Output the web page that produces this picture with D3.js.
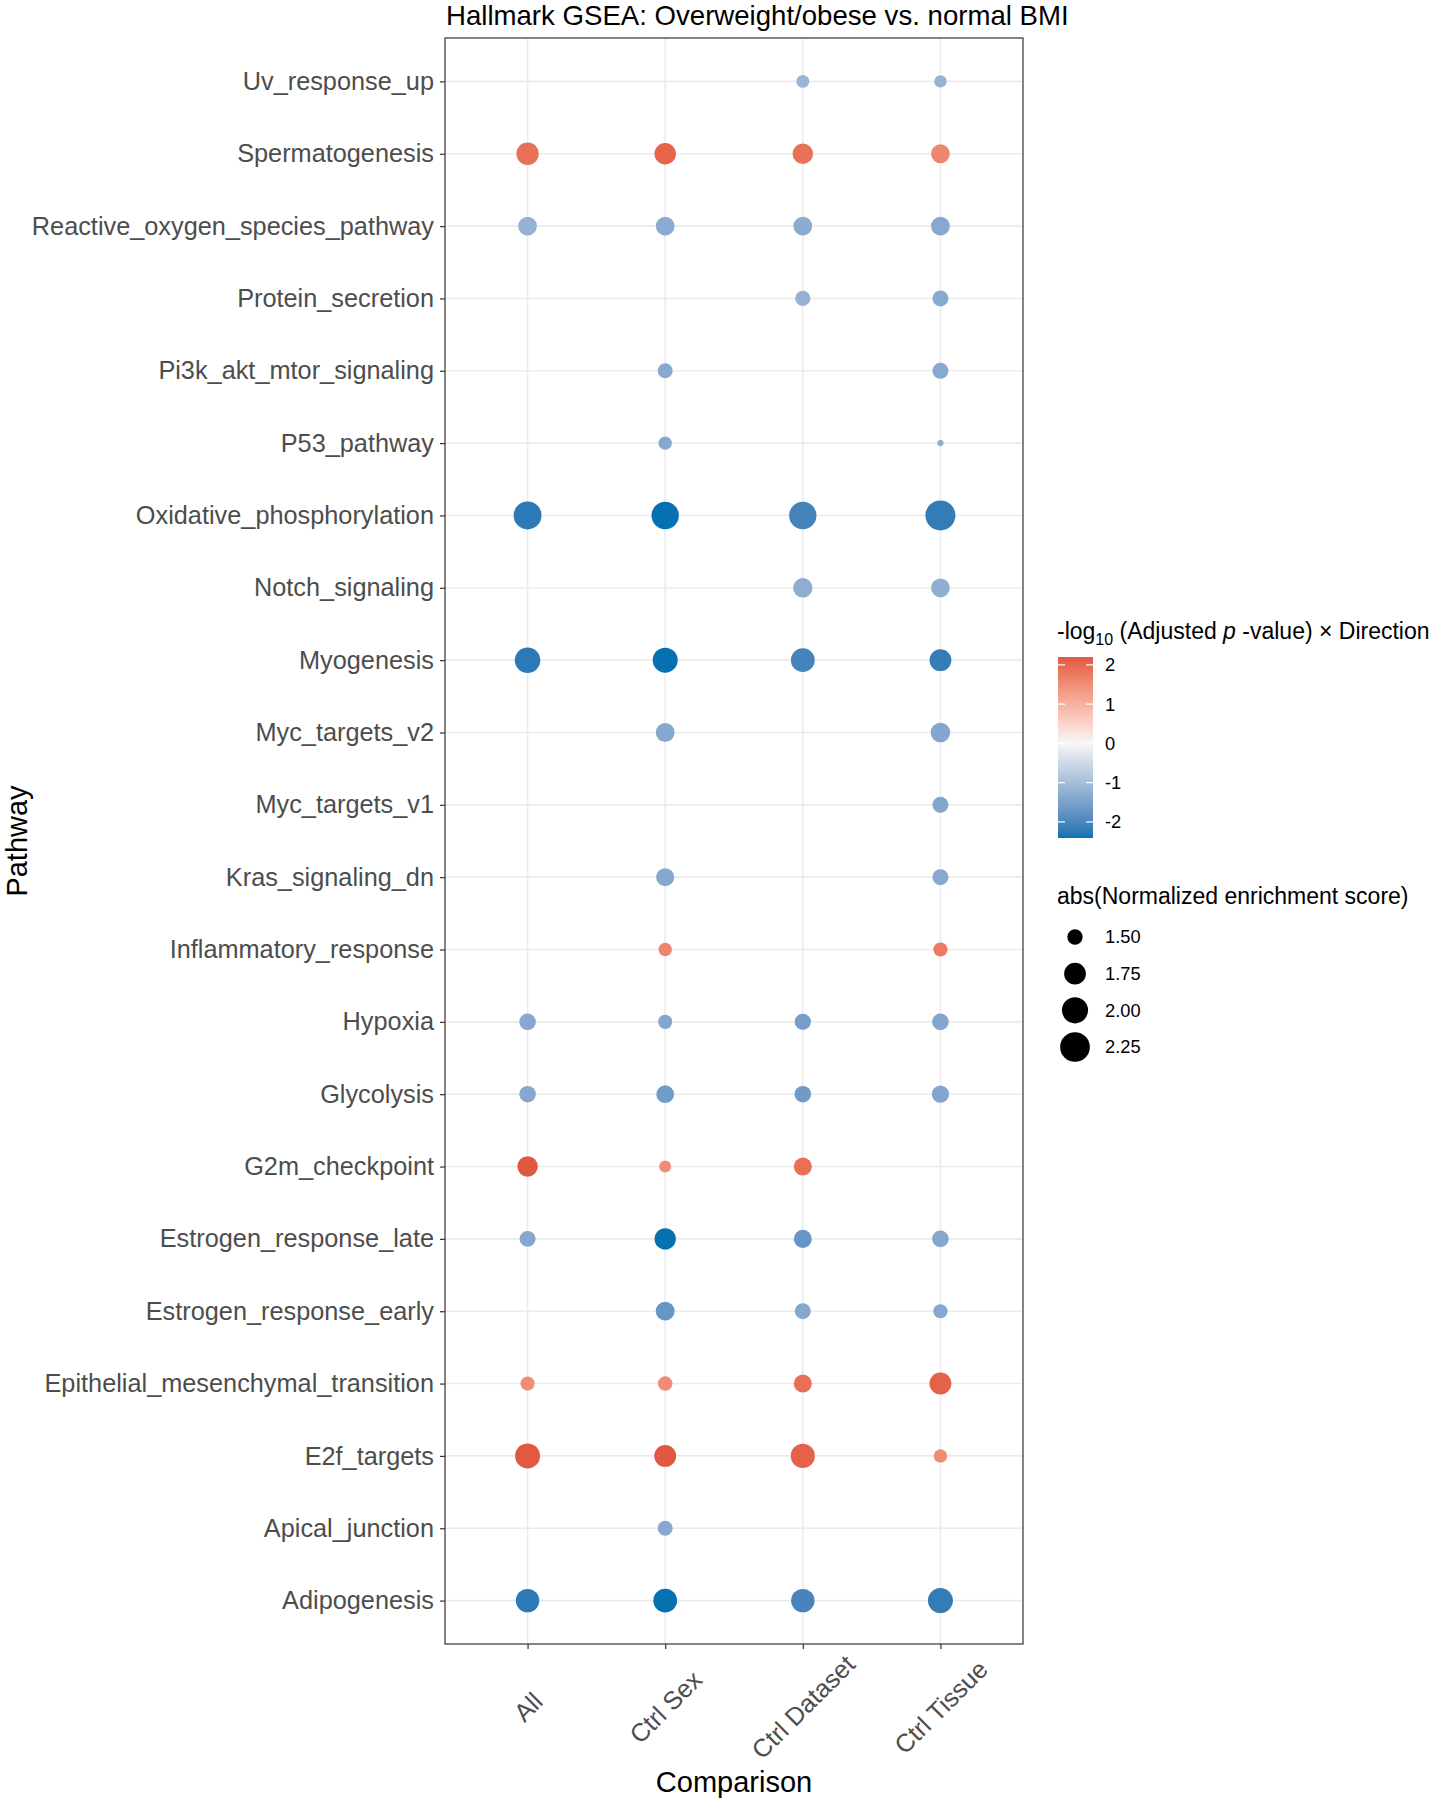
<!DOCTYPE html>
<html>
<head>
<meta charset="utf-8">
<script src="https://cdn.jsdelivr.net/npm/d3@7"></script>
<style>
  html, body { margin: 0; padding: 0; background: #ffffff; }
  svg { display: block; font-family: "Liberation Sans", Arial, Helvetica, sans-serif; }
</style>
</head>
<body>
<svg id="chart" width="1437" height="1800"></svg>
<script>
// ---------------- data ----------------
const comparisons = ["All", "Ctrl Sex", "Ctrl Dataset", "Ctrl Tissue"];
// pathways in axis order, from bottom to top
const pathways = [
  "Adipogenesis", "Apical_junction", "E2f_targets", "Epithelial_mesenchymal_transition",
  "Estrogen_response_early", "Estrogen_response_late", "G2m_checkpoint", "Glycolysis",
  "Hypoxia", "Inflammatory_response", "Kras_signaling_dn", "Myc_targets_v1",
  "Myc_targets_v2", "Myogenesis", "Notch_signaling", "Oxidative_phosphorylation",
  "P53_pathway", "Pi3k_akt_mtor_signaling", "Protein_secretion",
  "Reactive_oxygen_species_pathway", "Spermatogenesis", "Uv_response_up"
];
// abs(normalized enrichment score), aligned with pathways (null = not significant)
const nesAll     = [1.84, null, 1.93, 1.47, null, 1.52, 1.69, 1.54, 1.54, null, null, null, null, 1.96, null, 2.12, null, null, null, 1.62, 1.78, null];
const nesSex     = [1.86, 1.49, 1.76, 1.48, 1.62, 1.73, 1.42, 1.58, 1.47, 1.45, 1.59, null, 1.62, 1.93, null, 2.08, 1.45, 1.49, null, 1.62, 1.74, null];
const nesDataset = [1.84, null, 1.88, 1.59, 1.52, 1.59, 1.59, 1.54, 1.53, null, null, null, null, 1.86, 1.65, 2.08, null, null, 1.50, 1.62, 1.69, 1.44];
const nesTissue  = [1.93, null, 1.45, 1.76, 1.47, 1.54, null, 1.56, 1.54, 1.47, 1.52, 1.52, 1.65, 1.76, 1.62, 2.27, 1.37, 1.52, 1.52, 1.62, 1.62, 1.43];
// -log10(adjusted p-value) x direction, aligned with pathways
const sigAll     = [-2.25, null, 2.19, 1.50, null, -1.37, 2.20, -1.37, -1.35, null, null, null, null, -2.25, null, -2.25, null, null, null, -1.20, 1.90, null];
const sigSex     = [-2.41, -1.35, 2.20, 1.52, -1.72, -2.41, 1.52, -1.60, -1.40, 1.60, -1.37, null, -1.37, -2.41, null, -2.41, -1.37, -1.35, null, -1.32, 2.05, null];
const sigDataset = [-2.05, null, 2.08, 1.90, -1.38, -1.72, 1.90, -1.62, -1.56, null, null, null, null, -2.05, -1.28, -2.07, null, null, -1.20, -1.32, 1.88, -1.15];
const sigTissue  = [-2.20, null, 1.52, 2.08, -1.38, -1.40, null, -1.42, -1.42, 1.75, -1.36, -1.42, -1.42, -2.18, -1.27, -2.20, -1.28, -1.35, -1.35, -1.36, 1.60, -1.18];
const sizeBreaks  = [1.50, 1.75, 2.00, 2.25];
const colorBreaks = [2, 1, 0, -1, -2];

const nesSeries = [nesAll, nesSex, nesDataset, nesTissue];
const sigSeries = [sigAll, sigSex, sigDataset, sigTissue];

const points = [];
comparisons.forEach((c, ci) => {
  pathways.forEach((p, pi) => {
    const n = nesSeries[ci][pi];
    if (n != null) points.push({ comparison: c, pathway: p, nes: n, sig: sigSeries[ci][pi] });
  });
});

// ---------------- layout ----------------
const svg = d3.select("#chart");
const panel = { left: 445, right: 1023, top: 38, bottom: 1644 };
const textGray = "#4d4d4d";

svg.append("rect").attr("width", 1437).attr("height", 1800).attr("fill", "#ffffff");

const x = d3.scalePoint().domain(comparisons).range([panel.left, panel.right]).padding(0.6);
const y = d3.scalePoint().domain(pathways.slice().reverse()).range([panel.top, panel.bottom]).padding(0.6);

// colour: gradient2 style (low / mid / high, midpoint 0, symmetric rescale)
const sigExtent = d3.extent(points, d => d.sig);
const maxAbs = d3.max(sigExtent, v => Math.abs(v));
const color = d3.scaleLinear()
  .domain([-maxAbs, 0, maxAbs])
  .range(["#0571b0", "#f7f7f7", "#dc4530"])
  .interpolate(d3.interpolateLab)
  .clamp(true);

// size: area palette, diameter
const nesExtent = d3.extent(points, d => d.nes);
const tScale = d3.scaleLinear().domain(nesExtent).range([0, 1]).clamp(true);
const diam = d3.scaleLinear().domain([0, 1]).range([6.3, 30]);
const radius = v => diam(Math.sqrt(tScale(v))) / 2;

// ---------------- grid ----------------
const grid = svg.append("g");
grid.selectAll("line.h").data(pathways).join("line")
  .attr("x1", panel.left).attr("x2", panel.right)
  .attr("y1", d => y(d)).attr("y2", d => y(d))
  .attr("stroke", "#ebebeb").attr("stroke-width", 1.6);
grid.selectAll("line.v").data(comparisons).join("line")
  .attr("y1", panel.top).attr("y2", panel.bottom)
  .attr("x1", d => x(d)).attr("x2", d => x(d))
  .attr("stroke", "#ebebeb").attr("stroke-width", 1.6);

// ---------------- points ----------------
svg.append("g").selectAll("circle").data(points).join("circle")
  .attr("cx", d => x(d.comparison))
  .attr("cy", d => y(d.pathway))
  .attr("r", d => radius(d.nes))
  .attr("fill", d => color(d.sig));

// ---------------- panel border ----------------
svg.append("rect")
  .attr("x", panel.left).attr("y", panel.top)
  .attr("width", panel.right - panel.left).attr("height", panel.bottom - panel.top)
  .attr("fill", "none").attr("stroke", "#333333").attr("stroke-width", 1.2);

// ---------------- axes ----------------
const yAxis = svg.append("g")
  .attr("transform", `translate(${panel.left},0)`)
  .call(d3.axisLeft(y).tickSize(5).tickPadding(6));
yAxis.select(".domain").remove();
yAxis.selectAll(".tick line").attr("stroke", "#333333").attr("stroke-width", 1.2);
yAxis.selectAll(".tick text")
  .attr("fill", textGray).attr("font-size", 25.3)
  .attr("font-family", "Liberation Sans, Arial, sans-serif");

const xAxis = svg.append("g")
  .attr("transform", `translate(0,${panel.bottom})`)
  .call(d3.axisBottom(x).tickSize(5).tickPadding(6));
xAxis.select(".domain").remove();
xAxis.selectAll(".tick line").attr("stroke", "#333333").attr("stroke-width", 1.2);
xAxis.selectAll(".tick text")
  .attr("fill", textGray).attr("font-size", 25.3)
  .attr("font-family", "Liberation Sans, Arial, sans-serif")
  .attr("text-anchor", "middle")
  .attr("x", 0).attr("y", 0).attr("dy", "0.35em")
  .attr("transform", "translate(0,63) rotate(-45)");

// axis titles
svg.append("text")
  .attr("x", (panel.left + panel.right) / 2).attr("y", 1792)
  .attr("text-anchor", "middle").attr("font-size", 29).attr("fill", "#000")
  .text("Comparison");
svg.append("text")
  .attr("transform", `translate(27,${(panel.top + panel.bottom) / 2}) rotate(-90)`)
  .attr("text-anchor", "middle").attr("font-size", 29).attr("fill", "#000")
  .text("Pathway");

// title
svg.append("text")
  .attr("x", panel.left + 1).attr("y", 25)
  .attr("font-size", 27.6).attr("fill", "#000")
  .text("Hallmark GSEA: Overweight/obese vs. normal BMI");

// ---------------- colour legend ----------------
const lgX = 1057;
const ct = svg.append("text").attr("x", lgX).attr("y", 639).attr("font-size", 23).attr("fill", "#000");
ct.append("tspan").text("-log");
ct.append("tspan").attr("font-size", 16).attr("dy", 6).text("10");
ct.append("tspan").attr("dy", -6).text(" (Adjusted ");
ct.append("tspan").attr("font-style", "italic").text("p");
ct.append("tspan").text(" -value)  \u00d7  Direction");

const barTop = 657, barBottom = 838, barX = 1058, barW = 35;
const cbY = d3.scaleLinear().domain(sigExtent).range([barBottom, barTop]);
const defs = svg.append("defs");
const grad = defs.append("linearGradient").attr("id", "cbar")
  .attr("x1", 0).attr("y1", 1).attr("x2", 0).attr("y2", 0);
d3.range(0, 1.0001, 0.02).forEach(t => {
  const v = sigExtent[0] + t * (sigExtent[1] - sigExtent[0]);
  grad.append("stop").attr("offset", t).attr("stop-color", color(v));
});
svg.append("rect").attr("x", barX).attr("y", barTop)
  .attr("width", barW).attr("height", barBottom - barTop)
  .attr("fill", "url(#cbar)");
const cbTicks = svg.append("g");
colorBreaks.forEach(v => {
  const yy = cbY(v);
  cbTicks.append("line").attr("x1", barX).attr("x2", barX + 7).attr("y1", yy).attr("y2", yy)
    .attr("stroke", "#ffffff").attr("stroke-width", 1.2);
  cbTicks.append("line").attr("x1", barX + barW - 7).attr("x2", barX + barW).attr("y1", yy).attr("y2", yy)
    .attr("stroke", "#ffffff").attr("stroke-width", 1.2);
  cbTicks.append("text").attr("x", 1105).attr("y", yy).attr("dy", "0.35em")
    .attr("font-size", 18.3).attr("fill", "#000").text(v);
});

// ---------------- size legend ----------------
svg.append("text").attr("x", lgX).attr("y", 904).attr("font-size", 23).attr("fill", "#000")
  .text("abs(Normalized enrichment score)");
const sizeY = d3.scalePoint().domain(sizeBreaks).range([937, 1047]);
const sl = svg.append("g");
sl.selectAll("circle").data(sizeBreaks).join("circle")
  .attr("cx", 1075).attr("cy", d => sizeY(d)).attr("r", d => radius(d)).attr("fill", "#000");
sl.selectAll("text").data(sizeBreaks).join("text")
  .attr("x", 1105).attr("y", d => sizeY(d)).attr("dy", "0.35em")
  .attr("font-size", 18.3).attr("fill", "#000")
  .text(d => d3.format(".2f")(d));
</script>
</body>
</html>
